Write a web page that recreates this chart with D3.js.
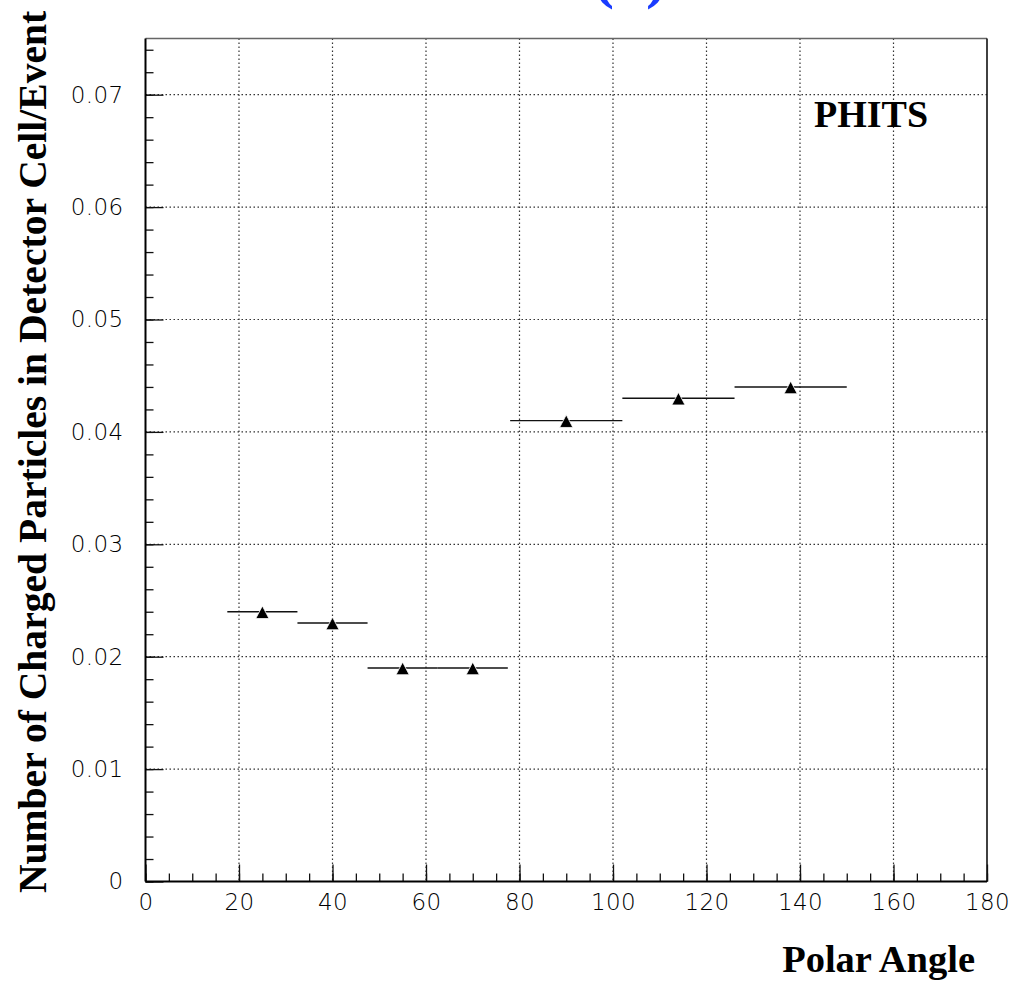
<!DOCTYPE html>
<html>
<head>
<meta charset="utf-8">
<script src="https://cdn.jsdelivr.net/npm/d3@7"></script>
<style>
  body { margin: 0; background: #fff; }
  svg { display: block; }
  .tick text { font-family: "DejaVu Sans", sans-serif; font-weight: 200; font-size: 23px; letter-spacing: 0.4px; fill: #000; }
  .title { font-family: "Liberation Serif", "Times New Roman", serif; font-weight: bold; }
</style>
</head>
<body>
<svg id="chart" width="1020" height="985"></svg>
<script>
// polar angle bin centres and their edges
const angles = [25, 40, 55, 70, 90, 114, 138];
const binLow = [17.5, 32.5, 47.5, 62.5, 78, 102, 126];
const binHigh = [32.5, 47.5, 62.5, 77.5, 102, 126, 150];
// charged particles per detector cell per event
const counts = [0.024, 0.023, 0.019, 0.019, 0.041, 0.043, 0.044];

const xTicks = [0, 20, 40, 60, 80, 100, 120, 140, 160, 180];
const yTicks = [0, 0.01, 0.02, 0.03, 0.04, 0.05, 0.06, 0.07];

const svg = d3.select("#chart");

const mLeft = 145.5, mRight = 987, mTop = 38.5, mBottom = 881.5;

var x = d3.scaleLinear().domain([0, 180]).range([mLeft, mRight]);
var y = d3.scaleLinear().domain([0, 0.075]).range([mBottom, mTop]);

// blue panel label, cut off at the top of the picture
svg.append("text")
  .attr("class", "title")
  .attr("x", 630)
  .attr("y", -4)
  .attr("text-anchor", "middle")
  .style("font-size", "64px")
  .style("fill", "#1a3cff")
  .text("(a)");

// dotted grid
const grid = svg.append("g")
  .attr("stroke", "#333")
  .attr("stroke-width", 1.2)
  .attr("stroke-dasharray", "1.5,2.5");

grid.selectAll(".gx")
  .data(xTicks.filter((d) => d > 0 && d < 180))
  .join("line")
  .attr("class", "gx")
  .attr("x1", (d) => x(d)).attr("x2", (d) => x(d))
  .attr("y1", mTop).attr("y2", mBottom);

grid.selectAll(".gy")
  .data(yTicks.filter((d) => d > 0))
  .join("line")
  .attr("class", "gy")
  .attr("x1", mLeft).attr("x2", mRight)
  .attr("y1", (d) => y(d)).attr("y2", (d) => y(d));

// minor ticks (drawn inward)
svg.append("g")
  .attr("transform", `translate(0,${mBottom})`)
  .call(d3.axisBottom(x).ticks(36).tickSize(-8).tickFormat(""))
  .call((g) => g.select(".domain").remove());

svg.append("g")
  .attr("transform", `translate(${mLeft},0)`)
  .call(d3.axisLeft(y).tickValues(d3.range(0, 0.0751, 0.002)).tickSize(-8).tickFormat(""))
  .call((g) => g.select(".domain").remove());

// major ticks with labels
const xAxis = svg.append("g")
  .attr("transform", `translate(0,${mBottom})`)
  .call(d3.axisBottom(x).tickValues(xTicks).tickSize(-17).tickPadding(12).tickFormat(d3.format("d")));
xAxis.select(".domain").remove();

const yAxis = svg.append("g")
  .attr("transform", `translate(${mLeft},0)`)
  .call(d3.axisLeft(y).tickValues(yTicks).tickSize(-18).tickPadding(22)
    .tickFormat((d) => (d === 0 ? "0" : d3.format(".2f")(d))));
yAxis.select(".domain").remove();

svg.selectAll(".tick line").attr("stroke", "#111").attr("stroke-width", 1.3);

// frame
svg.append("line").attr("x1", mLeft).attr("x2", mRight).attr("y1", mTop).attr("y2", mTop)
  .attr("stroke", "#666").attr("stroke-width", 1.6);
svg.append("line").attr("x1", mRight).attr("x2", mRight).attr("y1", mTop).attr("y2", mBottom)
  .attr("stroke", "#111").attr("stroke-width", 1.6);
svg.append("line").attr("x1", mLeft).attr("x2", mLeft).attr("y1", mTop).attr("y2", mBottom)
  .attr("stroke", "#000").attr("stroke-width", 2);
svg.append("line").attr("x1", mLeft).attr("x2", mRight).attr("y1", mBottom).attr("y2", mBottom)
  .attr("stroke", "#000").attr("stroke-width", 2);

// horizontal bin widths
svg.append("g")
  .selectAll("line")
  .data(counts)
  .join("line")
  .attr("x1", (d, i) => x(binLow[i]))
  .attr("x2", (d, i) => x(binHigh[i]))
  .attr("y1", (d) => y(d))
  .attr("y2", (d) => y(d))
  .attr("stroke", "#111")
  .attr("stroke-width", 1.4);

// triangle markers (up-pointing, sitting slightly low on the point)
const triShape = "M0,-5.8L6.6,6.8L-6.6,6.8Z";
svg.append("g")
  .selectAll("path")
  .data(counts)
  .join("path")
  .attr("d", triShape)
  .attr("transform", (d, i) => `translate(${x(angles[i])},${y(d)})`)
  .attr("fill", "#000")
  .attr("stroke", "#fff")
  .attr("stroke-width", 0.8);

// texts
svg.append("text")
  .attr("class", "title")
  .attr("x", 814)
  .attr("y", 127)
  .style("font-size", "38px")
  .text("PHITS");

svg.append("text")
  .attr("class", "title")
  .attr("x", 975)
  .attr("y", 972)
  .attr("text-anchor", "end")
  .style("font-size", "38.5px")
  .text("Polar Angle");

svg.append("text")
  .attr("class", "title")
  .attr("transform", "translate(46,893) rotate(-90)")
  .style("font-size", "39.6px")
  .text("Number of Charged Particles in Detector Cell/Event");
</script>
</body>
</html>
